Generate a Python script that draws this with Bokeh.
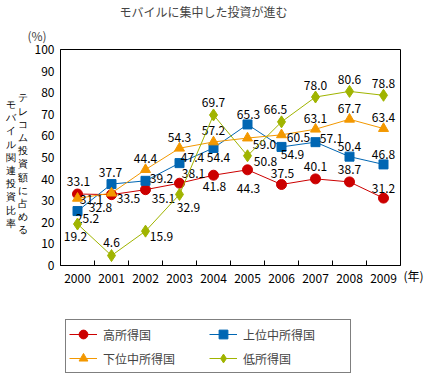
from bokeh.plotting import figure
from bokeh.layouts import column
from bokeh.models import (ColumnDataSource, Range1d, FixedTicker, LinearAxis,
                          Legend, LegendItem, Title)
from bokeh.core.properties import value
from bokeh.embed import file_html
from bokeh.resources import INLINE

# ---- data ----
years = [2000, 2001, 2002, 2003, 2004, 2005, 2006, 2007, 2008, 2009]
high_income = [33.1, 32.8, 35.1, 38.1, 41.8, 44.3, 37.5, 40.1, 38.7, 31.2]
upper_middle = [25.2, 37.7, 39.2, 47.4, 54.4, 65.3, 54.9, 57.1, 50.4, 46.8]
lower_middle = [31.1, 33.5, 44.4, 54.3, 57.2, 59.0, 60.5, 63.1, 67.7, 63.4]
low_income = [19.2, 4.6, 15.9, 32.9, 69.7, 50.8, 66.5, 78.0, 80.6, 78.8]
series_names = ["高所得国", "上位中所得国", "下位中所得国", "低所得国"]
y_ticks = [0, 10, 20, 30, 40, 50, 60, 70, 80, 90, 100]
title_text = "モバイルに集中した投資が進む"
ylabel_lines = ["テレコム投資額に占める", "モバイル関連投資比率"]
y_unit = "(%)"
x_unit = "(年)"

# ---- styles ----
FONT = "Noto Sans CJK JP"
colors = ["#cc0000", "#0066b3", "#f39800", "#a0b400"]
markers = ["circle", "square", "triangle", "diamond"]
msizes = [10, 9, 10, 12]
# label offsets (pixels, screen: +dy = down)
label_dx = [
    [1, -11, 18, 14, 1, 1, 1, 0, 0, 0],
    [10, -1, 16, 13, 5, 1, 11, 16, 0, 0],
    [14, 17, 0, 0, 0, 17, 17, 0, 0, 0],
    [-2, 0, 16, 9, 0, 18, -6, 0, 0, 0],
]
label_dy = [
    [-13, 13, 9, -10, 11, 19, -11, -12, -12, -10],
    [7, -12, -2, -6, 10, -10, 8, -4, -10, -10],
    [1, 5, -11, -11, -11, 6, 3, -11, -11, -11],
    [12, -13, 5, 13, -12, 6, -12, -12, -12, -12],
]
ylabel_pos = [47, 47]
ylabel_standoff = [4, -1]

p = figure(width=430, height=296, output_backend="svg", toolbar_location=None,
           x_range=Range1d(1999.5, 2009.5), y_range=Range1d(0, 100),
           min_border_left=60, min_border_right=30, min_border_top=38,
           min_border_bottom=31)

p.title.text = title_text
p.title.align = "left"
p.title.offset = 59
p.title.standoff = 0
p.title.text_font = FONT
p.title.text_font_size = "12px"
p.title.text_font_style = "normal"

p.add_layout(Title(text=y_unit, align="left", offset=-33, standoff=11,
                   text_font=FONT, text_font_size="12px",
                   text_font_style="normal"), "above")

p.outline_line_color = "black"
p.outline_line_width = 1
p.xgrid.visible = False
p.ygrid.visible = False

# x axis: labels at years, tick marks between years (inside)
xa = p.xaxis[0]
xa.ticker = FixedTicker(ticks=years, minor_ticks=[y + 0.5 for y in years[:-1]])
xa.major_label_overrides = {y: str(y) for y in years}
xa.major_tick_line_color = None
xa.minor_tick_line_color = "black"
xa.minor_tick_in = 5
xa.minor_tick_out = 0
xa.major_label_standoff = 2
xa.axis_line_color = "black"

# y axis
ya = p.yaxis[0]
ya.ticker = FixedTicker(ticks=y_ticks)
ya.major_tick_line_color = None
ya.minor_tick_line_color = None
ya.major_tick_in = 0
ya.major_tick_out = 0
ya.major_label_standoff = 6
ya.axis_line_color = "black"

for ax in (xa, ya):
    ax.major_label_text_font = FONT
    ax.major_label_text_font_size = "12px"
    ax.major_label_text_color = "black"

# unit of the x axis, beside the last year label (second line drops it to that row)
unit_axis = LinearAxis(ticker=FixedTicker(ticks=[y_ticks[0]], minor_ticks=[]),
                       major_label_overrides={y_ticks[0]: "\n" + x_unit},
                       axis_line_color=None, major_tick_line_color=None,
                       minor_tick_line_color=None, major_tick_in=0, major_tick_out=0,
                       major_label_standoff=3,
                       major_label_text_font=FONT, major_label_text_font_size="12px",
                       major_label_text_color="black")
p.add_layout(unit_axis, "right")

# vertical (stacked) y-axis title, two columns
for line, pos, standoff in zip(ylabel_lines, ylabel_pos, ylabel_standoff):
    ax = LinearAxis(ticker=FixedTicker(ticks=[pos], minor_ticks=[]),
                    major_label_overrides={pos: "\n".join(line)},
                    axis_line_color=None, major_tick_line_color=None,
                    minor_tick_line_color=None, major_tick_in=0, major_tick_out=0,
                    major_label_standoff=standoff,
                    major_label_text_font="Liberation Sans",
                    major_label_text_font_size="10px",
                    major_label_text_color="black")
    p.add_layout(ax, "left")

all_series = [high_income, upper_middle, lower_middle, low_income]
for i, vals in enumerate(all_series):
    src = ColumnDataSource(dict(x=years, y=vals, t=["%.1f" % v for v in vals],
                                dx=label_dx[i], dy=label_dy[i]))
    p.line("x", "y", source=src, line_color=colors[i], line_width=1)
    p.scatter("x", "y", source=src, marker=markers[i], size=msizes[i],
              fill_color=colors[i], line_color=colors[i])
    p.text("x", "y", text="t", source=src, x_offset="dx", y_offset="dy",
           text_align="center", text_baseline="middle",
           text_font=value(FONT), text_font_size="12px", text_color="black")

# ---- legend panel (own figure, same series styles; frame aligned with p) ----
pl = figure(width=430, height=78, output_backend="svg", toolbar_location=None,
            x_range=Range1d(0, 1), y_range=Range1d(0, 1),
            min_border_left=0, min_border_right=0, min_border_top=0,
            min_border_bottom=0, x_axis_type=None, y_axis_type=None)
pl.outline_line_color = None
pl.xgrid.visible = False
pl.ygrid.visible = False
nan = float("nan")
legend_items = {}
for i, name in enumerate(series_names):
    rl = pl.line(x=[nan], y=[nan], line_color=colors[i], line_width=1)
    rs = pl.scatter(x=[nan], y=[nan], marker=markers[i], size=msizes[i],
                    fill_color=colors[i], line_color=colors[i])
    legend_items[name] = LegendItem(label=name, renderers=[rl, rs])
# column-major fill: column 1 = 高所得国, 下位中所得国; column 2 = 上位中所得国, 低所得国
order = [series_names[0], series_names[2], series_names[1], series_names[3]]
legend = Legend(items=[legend_items[n] for n in order], location=(5, 1), ncols=2,
                border_line_color="black", border_line_width=1,
                padding=3, spacing=2, margin=0,
                glyph_width=28, glyph_height=22, label_height=22,
                label_width=104, label_standoff=6,
                label_text_font=FONT, label_text_font_size="12px",
                background_fill_color="white", background_fill_alpha=1)
pl.add_layout(legend)

layout = column(p, pl, spacing=0)
open("out.html", "w").write(file_html(layout, INLINE))
